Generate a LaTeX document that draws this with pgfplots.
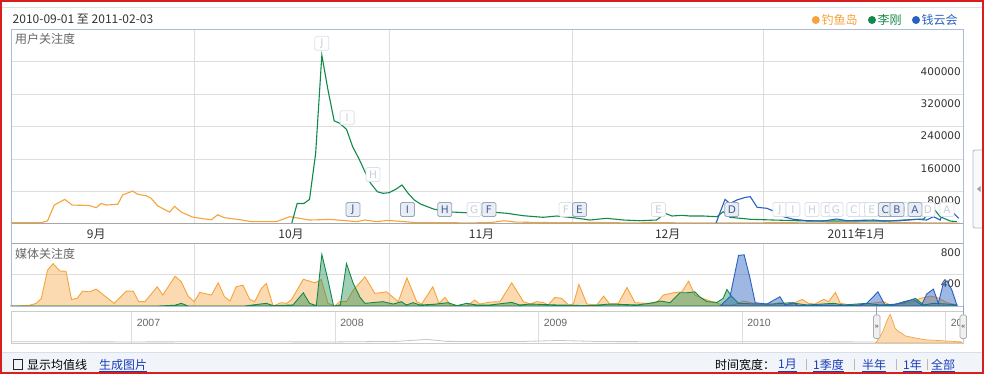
\documentclass[border=0pt]{standalone}
\usepackage{pgfplots}
\pgfplotsset{compat=1.18}
\usepackage{fontspec}
\setmainfont{Liberation Sans}
\newfontfamily\cjk{Noto Sans CJK SC}
\newfontfamily\dvs{DejaVu Sans}

\definecolor{cOr}{HTML}{F6A33C}
\definecolor{cGr}{HTML}{12894A}
\definecolor{cBl}{HTML}{2A60C2}
\definecolor{cTxt}{HTML}{333333}
\definecolor{cLab}{HTML}{666666}
\definecolor{cFrame}{HTML}{A9BCD8}
\definecolor{cGrid}{HTML}{DEDEDE}
\definecolor{cAxis}{HTML}{A6A6A6}
\definecolor{cLink}{HTML}{1A3DB8}
\definecolor{cRed}{HTML}{D81E1E}
\definecolor{cFlagF}{HTML}{E9EDF4}
\definecolor{cFlagD}{HTML}{98A5BA}
\definecolor{cFlagT}{HTML}{44609A}
\definecolor{cFadeD}{HTML}{DCE1E9}
\definecolor{cFadeT}{HTML}{C8CFDB}
\definecolor{cSel}{HTML}{8FA3C0}
\definecolor{cBar}{HTML}{F1F5FA}
\definecolor{cBarL}{HTML}{D6DFEB}

\newcommand{\fs}[1]{\fontsize{#1}{#1}\selectfont}

\pgfplotsset{
  strip/.style={
    scale only axis, width=952.5bp, xmin=0, xmax=154.5,
    axis line style={draw=none}, major tick length=0pt,
    grid style={cGrid, line width=0.8bp},
    scaled y ticks=false,
    yticklabel pos=right,
    yticklabel style={anchor=north east, inner sep=0pt, xshift=-2bp, yshift=-5.5bp,
      font=\dvs\fs{10.5bp}, text=cTxt},
  },
}
\tikzset{
  flag/.style={draw=cFlagD, fill=cFlagF, rounded corners=1.5bp, line width=0.8bp,
    minimum width=14bp, minimum height=14bp, inner sep=0pt,
    font=\dvs\fs{10.5bp}, text=cFlagT},
  fflag/.style={flag, draw=cFadeD, fill=white, text=cFadeT},
  lbl/.style={anchor=west, inner sep=0pt, font=\cjk\fs{12bp}, text=cTxt},
}

\begin{document}
\begin{tikzpicture}
% canvas in pixels of the reference: (x px, y px) -> (x bp, -y bp)
\path[use as bounding box] (0,0) rectangle (984bp,-374bp);
\fill[white] (0,0) rectangle (984bp,-374bp);
\draw[cFadeD, line width=0.8bp] (2bp,-7bp) -- (982bp,-7bp);

% header
\node[lbl] at (12.5bp,-19bp) {2010-09-01 至 2011-02-03};
\fill[cOr] (815.8bp,-20bp) circle (4bp);
\node[lbl, text=cOr] at (821.5bp,-19.5bp) {钓鱼岛};
\fill[cGr] (872bp,-20bp) circle (4bp);
\node[lbl, text=cGr] at (877.5bp,-19.5bp) {李刚};
\fill[cBl] (916bp,-20bp) circle (4bp);
\node[lbl, text=cBl] at (921.5bp,-19.5bp) {钱云会};

% ---- user attention ----
\begin{axis}[strip, at={(10.5bp,-223.7bp)}, anchor=south west, height=194.2bp,
  ymin=0, ymax=479500,
  xtick={13.9,45.5,76.4,106.6,137.2},
  xticklabels={9月,10月,11月,12月,2011年1月},
  xticklabel style={anchor=center, inner sep=0pt, yshift=-10.3bp, font=\cjk\fs{12bp}, text=cTxt},
  extra x ticks={29.8,61.4,91.2,122.1}, extra x tick labels={},
  extra x tick style={grid=major},
  ytick={80000,160000,240000,320000,400000},
  yticklabels={80000,160000,240000,320000,400000},
  ymajorgrids]
\addplot[cOr, line width=1.1bp] coordinates {
(0,2500) (5,2500) (6,7000) (7.1,46000) (8.8,60000) (10,46000) (12.8,45000)
(13.9,39500) (14.7,50000) (15.5,46000) (17.4,48000) (18.2,71000) (19.8,80600)
(20.6,73000) (22,69000) (22.8,63000) (23.9,43700) (25.8,28600) (26.6,43000)
(27.7,28600) (29.5,16500) (31.2,12300) (32.6,9900) (33.6,22000) (34.7,14800)
(37.2,9900) (39.1,5000) (43.1,5000) (45.3,17300) (46.9,13300) (48.5,9100)
(51.8,10600) (53.9,8100) (56.1,5000) (57.5,9100) (59.4,5000) (61.2,8100)
(63.2,5900) (65.9,2500) (70,2500) (75,2000) (78,3000) (80,7400) (82,4000)
(86,3000) (90,2500) (95,3000) (100,2000) (105,2500) (110,2000) (115,2000)
(120,2000) (125,2500) (130,2000) (135,2500) (140,2000) (145,2500) (150,2000) (154,1500)
};
\addplot[cGr, line width=1.1bp] coordinates {
(45.6,0) (46.5,50000) (47.6,50000) (48.5,60000) (49.5,174000) (50.5,416000)
(51.5,330000) (52.5,254000) (53.4,248000) (54.5,233000) (55.5,190000)
(56.5,161000) (57.5,128000) (58.4,100000) (59.5,79000) (60.4,75000)
(61.4,76500) (62.5,85000) (63.5,95500) (64.5,75000) (65.5,58500) (66.5,48600)
(68.6,36300) (70.7,29600) (74,27000) (77.8,29000) (80.5,25700) (83.2,19700)
(86.4,15800) (88.6,19000) (91.3,14800) (94,9100) (96.7,13300) (99.4,9100)
(102,7400) (104.8,9100) (106.2,25700) (107.3,19000) (108.9,20700) (110.2,19000)
(112.4,19000) (114.6,17300) (115.6,29600) (116.7,15800) (120,10900) (123.7,9100)
(129.2,6700) (137.3,6700) (142.7,6700) (144.9,9100) (148.1,11600) (149.7,38000)
(150.8,17300) (152.4,6700) (153.5,5000)
};
\addplot[cBl, line width=1.1bp] coordinates {
(114.4,0) (115.9,60000) (116.7,50000) (117.8,58500) (119.2,65000) (120,66700)
(121.1,40500) (122.7,38000) (124,29600) (125.4,17300) (127,10900) (129.2,7400)
(131.9,6700) (134,11600) (135.7,7400) (140,9100) (141.6,6700) (144.3,7400)
(147,10900) (148.6,9100) (149.7,17300) (150.8,9100) (151.8,52000) (152.7,29600)
(153.8,13300)
};
% event flags
\node[fflag] at (axis cs:50.5,445400) {J};
\node[fflag] at (axis cs:54.6,261500) {I};
\node[fflag] at (axis cs:58.8,121500) {H};
\node[fflag] at (axis cs:90.1,35000) {F};
\node[fflag] at (axis cs:105.1,35000) {E};
\node[fflag] at (axis cs:124.8,35000) {J};
\node[fflag] at (axis cs:126.9,35000) {I};
\node[fflag] at (axis cs:130.0,35000) {H};
\node[fflag] at (axis cs:132.6,35000) {D};
\node[fflag] at (axis cs:133.9,35000) {G};
\node[fflag] at (axis cs:136.8,35000) {C};
\node[fflag] at (axis cs:138.8,35000) {F};
\node[fflag] at (axis cs:139.7,35000) {E};
\node[fflag] at (axis cs:148.8,35000) {D};
\node[fflag] at (axis cs:151.9,35000) {A};
\node[fflag] at (axis cs:75.2,35000) {G};
\node[flag] at (axis cs:55.55,35000) {J};
\node[flag] at (axis cs:64.4,35000) {I};
\node[flag] at (axis cs:70.45,35000) {H};
\node[flag] at (axis cs:77.6,35000) {F};
\node[flag] at (axis cs:92.3,35000) {E};
\node[flag] at (axis cs:117.0,35000) {D};
\node[flag] at (axis cs:141.9,35000) {C};
\node[fflag] at (axis cs:144.6,35000) {D};
\node[flag] at (axis cs:143.8,35000) {B};
\node[flag] at (axis cs:146.7,35000) {A};
\end{axis}

% ---- media attention ----
\begin{axis}[strip, at={(10.5bp,-306bp)}, anchor=south west, height=63bp,
  ymin=0, ymax=800,
  xtick={29.8,61.4,91.2,122.1}, xticklabels={}, xmajorgrids,
  ytick={400,800}, yticklabels={400,800}, ymajorgrids]
\addplot[cOr, line width=0.9bp, fill=cOr, fill opacity=0.4] coordinates {
(0,13) (0.6,0) (3.1,9) (4.2,34) (5,97) (6,454) (6.9,538) (8,445) (9,441) (9.9,84)
(10.8,97) (11.7,189) (12.8,180) (13.9,214) (16.8,34) (18.8,189) (19.9,189)
(20.8,55) (21.8,55) (23.8,244) (24.7,139) (26.7,378) (27.7,307) (28.8,126)
(29.8,55) (30.7,172) (32.6,139) (33.7,294) (34.7,118) (35.6,63) (36.6,244)
(37.7,265) (38.8,84) (39.6,55) (40.7,223) (41.5,286) (42.6,0) (43.9,42)
(44.8,34) (45.6,84) (47.5,340) (49.4,294) (50.4,336) (51.5,34) (52.6,0)
(53.4,55) (54.5,55) (55.6,202) (57.5,370) (59.1,160) (59.9,168) (61,180)
(62.9,55) (64.3,357) (65.9,55) (66.7,25) (68.5,244) (69.5,34) (70.5,109)
(71.3,13) (74,0) (75.3,76) (76.1,25) (77.8,50) (79.4,55) (81.3,294) (83.2,55)
(84.3,25) (85.3,55) (86.4,46) (87.2,13) (88.3,109) (89.4,97) (90.5,13)
(91.3,25) (92.2,273) (93.5,25) (95.1,13) (96.2,126) (97.2,25) (98.6,34)
(100,235) (101.3,42) (103.2,34) (104.8,42) (105.9,139) (107.5,168) (108.9,180)
(110,315) (111,139) (112.7,84) (114.6,34) (115.6,13) (117.3,13) (118.9,63)
(120.5,34) (122.7,13) (124.8,42) (126.5,13) (128.4,84) (129.4,34) (130.5,25)
(131.9,84) (132.7,55) (133.8,172) (134.6,34) (136.2,13) (138.9,25) (141.6,55)
(142.7,13) (145.9,42) (147.6,97) (149.2,126) (150.3,109) (151.9,42) (153.5,13)
} \closedcycle;
\addplot[cGr, line width=0.9bp, fill=cGr, fill opacity=0.4] coordinates {
(0,0) (24,0) (26.7,10) (27.7,34) (28.8,0) (38,0) (39.3,13) (41.5,34) (42.6,4)
(45.8,13) (47.5,168) (48.5,34) (49.6,4) (50.5,655) (51.5,328) (52.4,0)
(53.5,13) (54.5,538) (55.6,286) (56.7,109) (57.5,34) (60.4,55) (62.1,25)
(63.4,55) (64.2,13) (65.3,42) (66.4,13) (68.6,21) (71,42) (72.4,4) (74,34)
(75.6,13) (77.8,13) (81.3,46) (82.6,13) (84.3,25) (88.6,13) (94,4) (97.2,25)
(101.6,13) (103.7,34) (105.4,63) (107,42) (108.6,168) (109.7,168) (111,180)
(111.9,109) (113,55) (114.6,46) (115.6,97) (116.2,210) (117,118) (118.1,34)
(121.1,25) (123.7,25) (126.5,42) (129.2,13) (133.5,34) (135.1,13) (138.9,34)
(141,13) (143.2,21) (144.9,42) (146.8,97) (148.1,13) (149.7,34) (151.9,25) (153.5,13)
} \closedcycle;
\addplot[cBl, line width=0.9bp, fill=cBl, fill opacity=0.45] coordinates {
(115.1,0) (116.7,118) (118.1,643) (119,650) (119.9,370) (120.8,42) (122.7,25)
(124.8,118) (125.6,13) (127,42) (127.8,4) (131.9,13) (137.3,4) (138.9,34)
(140.7,180) (141.9,4) (143.2,13) (144.9,55) (146.5,84) (147.8,13) (148.6,151)
(149.7,214) (150.5,34) (151.3,286) (151.9,319) (152.7,202) (153.5,13)
} \closedcycle;
\end{axis}

% chart frame
\draw[cFrame, line width=1bp] (11.5bp,-29.5bp) rectangle (963bp,-306bp);
\draw[cAxis, line width=1bp] (11.5bp,-223.7bp) -- (963bp,-223.7bp);
\draw[cAxis, line width=1bp] (11.5bp,-243bp) -- (963bp,-243bp);
\node[lbl, text=cLab] at (15bp,-39.3bp) {用户关注度};
\node[lbl, text=cLab] at (15bp,-254bp) {媒体关注度};

% side tab
\draw[cFrame, fill=gray!5, rounded corners=2bp, line width=0.8bp] (973bp,-150bp) rectangle (990bp,-228bp);
\fill[gray!75] (977bp,-189bp) -- (980.5bp,-186bp) -- (980.5bp,-192bp) -- cycle;

% ---- navigator ----
\begin{axis}[scale only axis, at={(11.5bp,-343bp)}, anchor=south west,
  width=951.5bp, height=32bp,
  xmin=2006.41, xmax=2011.085, ymin=0, ymax=89000,
  axis line style={draw=none}, major tick length=0pt,
  xtick={2007,2008,2009,2010,2011}, xticklabels={2007,2008,2009,2010,2011},
  xticklabel pos=upper, xmajorgrids, grid style={cGrid, line width=0.8bp},
  xticklabel style={anchor=north west, inner sep=0pt, xshift=5bp, yshift=-8bp,
    font=\fs{10.5bp}, text=cLab},
  ytick=\empty]
\addplot[gray!45, line width=0.8bp] coordinates {
(2006.41,3500) (2007.0,3000) (2007.5,3500) (2008.0,3000) (2008.3,4500)
(2008.45,10000) (2008.55,4500) (2008.9,4000) (2009.1,7000) (2009.3,4000)
(2009.7,3500) (2010.2,3500) (2010.6,3000) (2010.655,2500)
};
\addplot[cOr, line width=0.7bp, fill=cOr, fill opacity=0.4] coordinates {
(2010.655,0) (2010.66,2500) (2010.69,30000) (2010.71,60000) (2010.727,80000)
(2010.74,60000) (2010.751,41700) (2010.765,33000) (2010.782,27800)
(2010.80,20000) (2010.85,13900) (2010.90,9000) (2010.979,6400) (2011.02,5000)
(2011.062,3600) (2011.08,3000)
} \closedcycle;
\end{axis}
\fill[white] (964bp,-309bp) rectangle (982bp,-345bp);
\draw[gray!40, line width=0.8bp] (11.5bp,-311bp) rectangle (963bp,-343bp);
\draw[cSel, line width=0.8bp] (876.7bp,-306bp) -- (876.7bp,-315bp);
\draw[cSel, line width=0.8bp] (963bp,-306bp) -- (963bp,-315bp);
\draw[gray!65, fill=gray!12, rounded corners=1.5bp, line width=0.7bp] (873.5bp,-315bp) rectangle (880bp,-338.5bp);
\node[font=\fs{7bp}, text=gray!40!black, inner sep=0pt] at (876.7bp,-327bp) {»};
\draw[gray!65, fill=gray!12, rounded corners=1.5bp, line width=0.7bp] (960bp,-315bp) rectangle (966.5bp,-338.5bp);
\node[font=\fs{7bp}, text=gray!40!black, inner sep=0pt] at (963.2bp,-327bp) {«};

% ---- bottom bar ----
\fill[cBar] (2bp,-352bp) rectangle (982bp,-372bp);
\draw[cBarL, line width=0.8bp] (2bp,-352bp) -- (982bp,-352bp);
\draw[gray!30!black, line width=0.8bp] (13.5bp,-359.5bp) rectangle (22.5bp,-369bp);
\node[lbl, text=black] at (27bp,-364.5bp) {显示均值线};
\node[lbl, text=cLink] (g) at (99bp,-364.5bp) {生成图片};
\draw[cLink, line width=0.7bp] ([yshift=-1bp]g.south west) -- ([yshift=-1bp]g.south east);
\node[lbl, text=black] at (715bp,-364.5bp) {时间宽度：};
\foreach \x/\t in {778/1月, 813/1季度, 862/半年, 903/1年, 931/全部}{
  \node[lbl, text=cLink] (t) at (\x bp,-364.5bp) {\t};
  \draw[cLink, line width=0.7bp] ([yshift=-1bp]t.south west) -- ([yshift=-1bp]t.south east);
}
\foreach \x in {806,854,896,927}{
  \draw[gray!55, line width=0.7bp] (\x bp,-358.5bp) -- (\x bp,-370bp);
}

% outer red frame
\draw[cRed, line width=2bp] (1bp,-1bp) rectangle (983bp,-373bp);
\end{tikzpicture}
\end{document}
